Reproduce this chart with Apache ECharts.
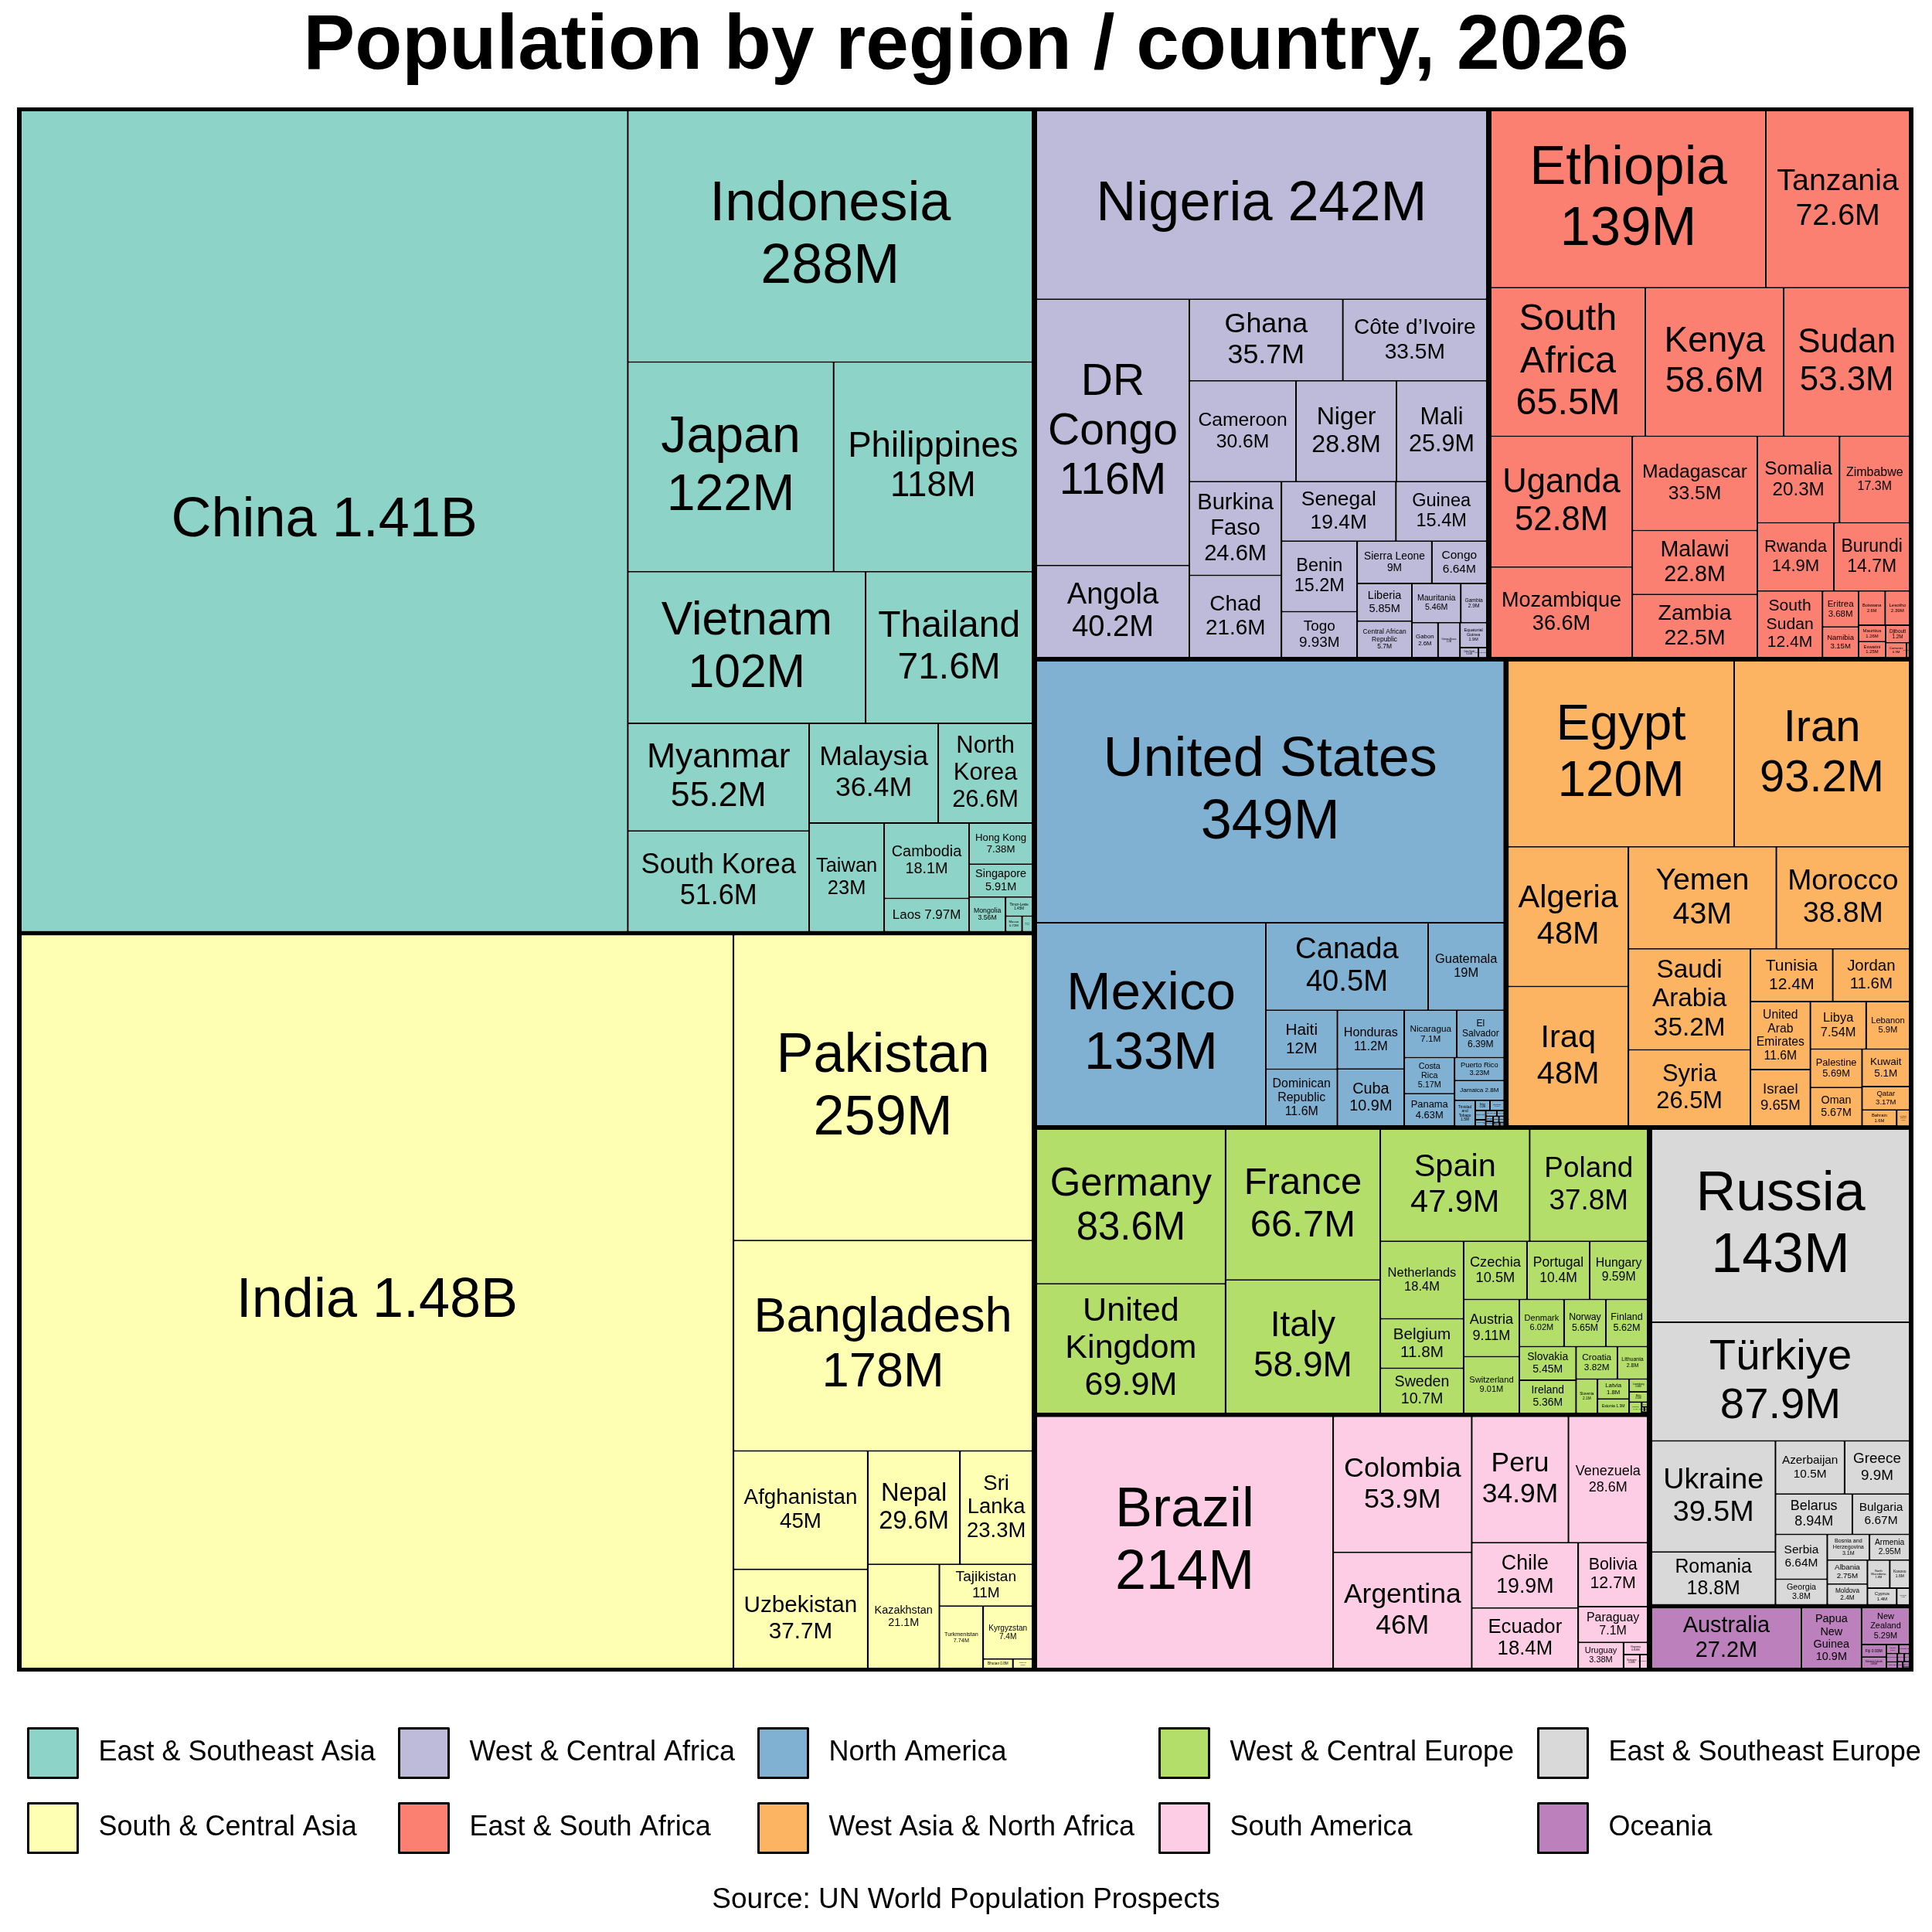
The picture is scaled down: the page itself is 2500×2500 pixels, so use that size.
<!DOCTYPE html>
<html><head><meta charset="utf-8">
<script src="https://cdn.jsdelivr.net/npm/echarts@6/dist/echarts.min.js"></script>
<style>html,body{margin:0;padding:0;background:#fff}#c{width:2500px;height:2500px}</style>
</head><body><div id="c"></div>
<script>
const regions = ['East & Southeast Asia','South & Central Asia','West & Central Africa','East & South Africa','North America','West Asia & North Africa','West & Central Europe','South America','East & Southeast Europe','Oceania'];
const regionColors = ['#8DD3C7','#FFFFB3','#BEBADA','#FB8072','#80B1D3','#FDB462','#B3DE69','#FCCDE5','#D9D9D9','#BC80BD'];

const eastAsiaNames = ['China','Indonesia','Japan','Philippines','Vietnam','Thailand','Myanmar','South Korea','Malaysia','North Korea','Taiwan','Cambodia','Laos','Hong Kong','Singapore','Mongolia','Timor-Leste','Macao','Brunei'];
const eastAsiaPop = [1410,288,122,118,102,71.6,55.2,51.6,36.4,26.6,23,18.1,7.97,7.38,5.91,3.56,1.45,0.72,0.46];

const southAsiaNames = ['India','Pakistan','Bangladesh','Afghanistan','Uzbekistan','Nepal','Sri Lanka','Kazakhstan','Tajikistan','Turkmenistan','Kyrgyzstan','Bhutan','Maldives'];
const southAsiaPop = [1480,259,178,45,37.7,29.6,23.3,21.1,11,7.74,7.4,0.8,0.53];

const westAfricaNames = ['Nigeria','DR Congo','Angola','Ghana','Côte d’Ivoire','Cameroon','Niger','Mali','Burkina Faso','Chad','Senegal','Guinea','Benin','Togo','Sierra Leone','Congo','Liberia','Central African Republic','Mauritania','Gambia','Gabon','Guinea-Bissau','Equatorial Guinea','Cabo Verde','São Tomé and Príncipe'];
const westAfricaPop = [242,116,40.2,35.7,33.5,30.6,28.8,25.9,24.6,21.6,19.4,15.4,15.2,9.93,9,6.64,5.85,5.7,5.46,2.9,2.6,2.2,1.9,0.53,0.24];

const eastAfricaNames = ['Ethiopia','Tanzania','South Africa','Kenya','Sudan','Uganda','Mozambique','Madagascar','Malawi','Zambia','Somalia','Zimbabwe','Rwanda','Burundi','South Sudan','Eritrea','Namibia','Botswana','Lesotho','Mauritius','Eswatini','Djibouti','Comoros','Seychelles'];
const eastAfricaPop = [139,72.6,65.5,58.6,53.3,52.8,36.6,33.5,22.8,22.5,20.3,17.3,14.9,14.7,12.4,3.68,3.15,2.6,2.39,1.26,1.25,1.2,0.9,0.13];

const northAmericaNames = ['United States','Mexico','Canada','Guatemala','Haiti','Dominican Republic','Honduras','Cuba','Nicaragua','El Salvador','Costa Rica','Panama','Puerto Rico','Jamaica','Trinidad and Tobago','Belize','Bahamas','Barbados','Curaçao','Saint Lucia','Grenada','Aruba','Saint Vincent and the Grenadines','US Virgin Islands','Antigua and Barbuda','Dominica','Saint Kitts and Nevis'];
const northAmericaPop = [349,133,40.5,19,12,11.6,11.2,10.9,7.1,6.39,5.17,4.63,3.23,2.8,1.5,0.43,0.41,0.28,0.19,0.18,0.12,0.11,0.1,0.1,0.094,0.066,0.047];

const wanaNames = ['Egypt','Iran','Iraq','Algeria','Yemen','Morocco','Saudi Arabia','Syria','Tunisia','United Arab Emirates','Jordan','Israel','Libya','Lebanon','Palestine','Oman','Kuwait','Qatar','Bahrain','Western Sahara'];
const wanaPop = [120,93.2,48,48,43,38.8,35.2,26.5,12.4,11.6,11.6,9.65,7.54,5.9,5.69,5.67,5.1,3.17,1.6,0.6];

const westEuropeNames = ['Germany','United Kingdom','France','Italy','Spain','Poland','Netherlands','Belgium','Sweden','Czechia','Portugal','Hungary','Austria','Switzerland','Denmark','Norway','Finland','Slovakia','Ireland','Croatia','Lithuania','Slovenia','Latvia','Estonia','Luxembourg','Malta','Iceland','Andorra','Liechtenstein','Monaco','San Marino'];
const westEuropePop = [83.6,69.9,66.7,58.9,47.9,37.8,18.4,11.8,10.7,10.5,10.4,9.59,9.11,9.01,6.02,5.65,5.62,5.45,5.36,3.82,2.8,2.1,1.8,1.3,0.68,0.54,0.4,0.08,0.04,0.04,0.03];

const southAmericaNames = ['Brazil','Colombia','Argentina','Peru','Venezuela','Chile','Ecuador','Bolivia','Paraguay','Uruguay','Guyana','Suriname','French Guiana'];
const southAmericaPop = [214,53.9,46,34.9,28.6,19.9,18.4,12.7,7.1,3.38,0.84,0.65,0.31];

const eastEuropeNames = ['Russia','Türkiye','Ukraine','Romania','Azerbaijan','Greece','Belarus','Bulgaria','Serbia','Georgia','Bosnia and Herzegovina','Armenia','Albania','Moldova','North Macedonia','Kosovo','Cyprus','Montenegro'];
const eastEuropePop = [143,87.9,39.5,18.8,10.5,9.9,8.94,6.67,6.64,3.8,3.1,2.95,2.75,2.4,1.8,1.6,1.4,0.62];

const oceaniaNames = ['Australia','Papua New Guinea','New Zealand','Fiji','Solomon Islands','Vanuatu','New Caledonia','French Polynesia','Samoa','Guam','Kiribati','Micronesia','Tonga','Marshall Islands'];
const oceaniaPop = [27.2,10.9,5.29,0.93,0.85,0.34,0.29,0.28,0.22,0.17,0.13,0.11,0.1,0.04];

const regionNames = [eastAsiaNames, southAsiaNames, westAfricaNames, eastAfricaNames, northAmericaNames, wanaNames, westEuropeNames, southAmericaNames, eastEuropeNames, oceaniaNames];
const regionPops = [eastAsiaPop, southAsiaPop, westAfricaPop, eastAfricaPop, northAmericaPop, wanaPop, westEuropePop, southAmericaPop, eastEuropePop, oceaniaPop];

const titleText = 'Population by region / country, 2026';
const sourceText = 'Source: UN World Population Prospects';

// panel geometry: the layout is computed in a (near) unit square, then stretched to the panel
const PANEL_LEFT = 22, PANEL_TOP = 139, PANEL_W = 2454, PANEL_H = 2024;
const LAYOUT_W = PANEL_H + 2;
const SX = PANEL_W / LAYOUT_W;

function fmt(v) {
  if (v >= 1000) return Number((v / 1000).toPrecision(3)) + 'B';
  return Number(v.toPrecision(3)) + 'M';
}

// ---- label fitting (uses the library's computed layout) ----
const FONT = 'Liberation Sans';
const mctx = document.createElement('canvas').getContext('2d');
mctx.font = '100px "' + FONT + '"';
function tw(s) { return mctx.measureText(s).width / 100; }
function partitions(words, k) {
  const res = [];
  function rec(start, left, acc) {
    if (left === 1) { res.push(acc.concat([words.slice(start).join(' ')])); return; }
    for (let i = start + 1; i <= words.length - left + 1; i++) rec(i, left - 1, acc.concat([words.slice(start, i).join(' ')]));
  }
  rec(0, k, []);
  return res;
}
const LH = 1.12;
function fitLabel(name, v, w, h) {
  const vs = fmt(v);
  const words = name.split(' ');
  const cands = [[name + ' ' + vs]];
  for (let k = 1; k <= words.length; k++) partitions(words, k).forEach(p => cands.push(p.concat([vs])));
  const aw = Math.max(w * 0.88 - 4, 1), ah = Math.max(h * 0.9 - 4, 1);
  const fits = cands.map(lines => {
    const mw = Math.max(...lines.map(tw));
    return { lines, fs: Math.min(aw / mw, ah / (lines.length * LH)) };
  });
  const bestFs = Math.max(...fits.map(f => f.fs));
  const fs = Math.max(1.5, Math.min(72, bestFs, 6 * Math.sqrt(v)));
  const chosen = fits.find(f => f.fs >= fs * 0.999) || fits[0];
  return { text: chosen.lines.join('\n'), fs };
}

const legendLeft = [35, 515, 980, 1499, 1989];
const legendCols = [0, 1, 2, 3, 4].map(k => [regions[2 * k], regions[2 * k + 1]]);

function makeOption(labels) {
  const treeData = regions.map((r, i) => ({
    name: r,
    itemStyle: { color: regionColors[i] },
    children: regionNames[i].map((n, j) => {
      const v = regionPops[i][j];
      const lab = labels && labels[n];
      const fs = lab ? lab.fs : 10;
      return { name: n, value: v, itemStyle: { color: regionColors[i] },
        label: { show: !!lab, fontSize: fs, lineHeight: fs * LH } };
    })
  }));
  return {
    animation: false,
    backgroundColor: '#fff',
    title: [
      { text: titleText, left: 'center', top: 6, textStyle: { fontSize: 100, fontWeight: 'bold', color: '#000', fontFamily: FONT } },
      { text: sourceText, left: 'center', top: 2435, textStyle: { fontSize: 37, fontWeight: 'normal', color: '#000', fontFamily: FONT } }
    ],
    legend: legendCols.map((col, k) => ({
      orient: 'vertical', left: legendLeft[k], top: 2235, padding: 0, itemGap: 30,
      itemWidth: 64, itemHeight: 64, icon: 'rect', selectedMode: false,
      itemStyle: { borderColor: '#000', borderWidth: 3 },
      textStyle: { fontSize: 36, color: '#000', fontFamily: FONT, padding: [0, 0, 0, 22] },
      data: col
    })),
    series: [
      {
        type: 'treemap',
        left: PANEL_LEFT, top: PANEL_TOP, width: LAYOUT_W, height: PANEL_H,
        roam: false, nodeClick: false, breadcrumb: { show: false },
        sort: 'desc', silent: true, squareRatio: 1,
        label: {
          show: true, position: 'inside', color: '#000', fontFamily: FONT,
          overflow: 'none', padding: 0, align: 'center', verticalAlign: 'middle',
          formatter: p => (labels && labels[p.name]) ? labels[p.name].text : ''
        },
        upperLabel: { show: false },
        emphasis: { disabled: true },
        levels: [
          { itemStyle: { borderColor: '#000', borderWidth: 2, gapWidth: 0 } },
          { itemStyle: { borderColor: '#000', borderWidth: 3, gapWidth: 2 } },
          { itemStyle: { borderWidth: 0, gapWidth: 0 } }
        ],
        data: treeData
      },
      {
        type: 'pie', radius: [0, 0], center: [-200, -200], silent: true,
        label: { show: false }, labelLine: { show: false },
        data: regions.map((r, i) => ({ name: r, value: 1, itemStyle: { color: regionColors[i] } }))
      }
    ]
  };
}

const chart = echarts.init(document.getElementById('c'), null, { renderer: 'canvas' });
chart.setOption(makeOption(null));

// second pass: read the treemap's own layout and fit each label into its (stretched) cell
const labels = {};
try {
  const data = chart.getModel().getSeriesByIndex(0).getData();
  data.tree.root.eachNode(node => {
    if (node.children && node.children.length) return;
    const lay = node.getLayout();
    if (!lay) return;
    labels[node.name] = fitLabel(node.name, node.getValue(), lay.width * SX, lay.height);
  });
} catch (e) { console.error(e); }
chart.setOption(makeOption(labels), true);

// stretch the unit-square layout horizontally onto the panel (text stays unstretched)
try {
  const sm = chart.getModel().getSeriesByIndex(0);
  const view = chart.getViewOfSeriesModel ? chart.getViewOfSeriesModel(sm) : chart._chartsViews[0];
  const g = view.group;
  g.scaleX = SX;
  g.x = PANEL_LEFT - PANEL_LEFT * SX;
  g.traverse(el => { if (el.markRedraw) el.markRedraw(); });
  g.markRedraw && g.markRedraw();
  chart.getZr().refresh();
} catch (e) { console.error(e); }
</script></body></html>
